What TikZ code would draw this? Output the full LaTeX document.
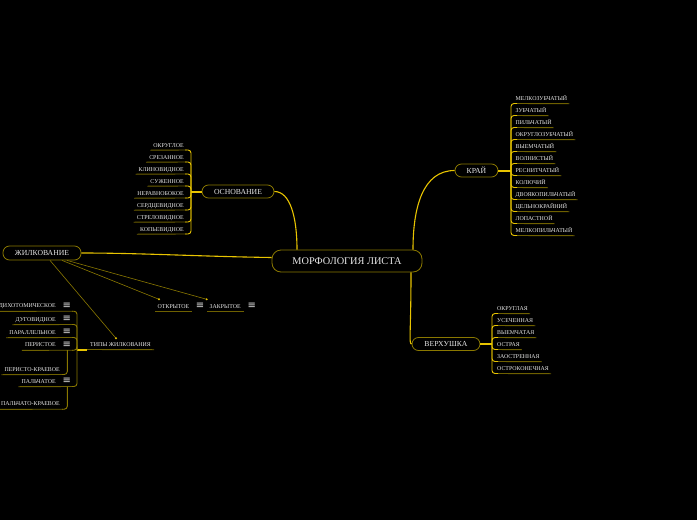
\documentclass[tikz,border=0pt]{standalone}
\usepackage{fontspec}
\setmainfont{Liberation Serif}
\newfontfamily\symfont{DejaVu Sans}
\definecolor{ylw}{HTML}{E8C400}
\definecolor{olv}{HTML}{8A7800}
\definecolor{uln}{HTML}{6E6000}
\definecolor{txt}{HTML}{E6E6E6}
\begin{document}
\begin{tikzpicture}[x=1pt,y=-1pt,
 leaf/.style={font=\fontsize{5.9}{6}\selectfont, text=txt, inner sep=0pt, text height=4pt, text depth=0pt},
 topic/.style={draw=olv, line width=0.8pt, rounded corners=6.5pt, fill=black, text=txt,
   font=\fontsize{7.7}{8}\selectfont, inner sep=0pt, text height=5.2pt, text depth=0pt, minimum height=13pt},
 central/.style={draw=olv, line width=0.8pt, rounded corners=9pt, fill=black, text=txt,
   font=\fontsize{10.3}{11}\selectfont, inner sep=0pt, text height=7pt, text depth=0pt,
   minimum width=150pt, minimum height=22pt},
 conn/.style={draw=ylw, line width=1.1pt},
 stub/.style={draw=ylw, line width=2pt},
 brk/.style={draw=ylw, line width=0.9pt, rounded corners=3pt},
 brkd/.style={draw=olv, line width=0.9pt, rounded corners=3pt},
 uline/.style={draw=uln, line width=0.9pt},
 rel/.style={draw=olv, line width=0.6pt},
 icon/.style={font=\symfont\fontsize{10}{10}\selectfont, text=txt, inner sep=0pt}
]
\fill[black] (0,0) rectangle (697,520);
\useasboundingbox (0,0) rectangle (697,520);

% central and topics
\node[central] (cen) at (347,261) {МОРФОЛОГИЯ ЛИСТА};
\node[topic, minimum width=72pt] (osn) at (238,191.5) {ОСНОВАНИЕ};
\node[topic, minimum width=43pt] (kr) at (476.5,170.5) {КРАЙ};
\node[topic, minimum width=68pt] (ver) at (446,344) {ВЕРХУШКА};
\node[topic, minimum width=78pt, minimum height=14pt] (zh) at (42,253) {ЖИЛКОВАНИЕ};

% main connectors
\draw[conn] (osn.east) .. controls +(16,0) and +(0,-32) .. ([xshift=-50pt]cen.north);
\draw[conn] (kr.west) .. controls +(-32,0) and +(0,-42) .. ([xshift=66pt]cen.north);
\draw[conn] ([xshift=64pt]cen.south) .. controls +(0,60) and +(-3,0) .. (ver.west);
\draw[conn] (zh.east) .. controls +(60,0) and +(-70,-1) .. ([yshift=3.5pt]cen.west);

% ОСНОВАНИЕ children
\coordinate (ob) at (191,191.5);
\draw[stub] (osn.west) -- (ob);
\foreach \yy/\lab [count=\i] in {145/ОКРУГЛОЕ,157/СРЕЗАННОЕ,169/КЛИНОВИДНОЕ,181/СУЖЕННОЕ,193/НЕРАВНОБОКОЕ,205/СЕРДЦЕВИДНОЕ,217/СТРЕЛОВИДНОЕ,229/КОПЬЕВИДНОЕ}{
  \node[leaf, anchor=east] (o\i) at (184,\yy) {\lab};
  \draw[uline] ([xshift=-3pt,yshift=-3pt]o\i.south west) -- (187,\yy+5);
  \draw[brk] (ob) |- (185,\yy+5);
}

% КРАЙ children
\coordinate (kb) at (511,170.5);
\draw[stub] (kr.east) -- (kb);
\foreach \yy/\lab [count=\i] in {98.5/МЕЛКОЗУБЧАТЫЙ,110.5/ЗУБЧАТЫЙ,122.5/ПИЛЬЧАТЫЙ,134.5/ОКРУГЛОЗУБЧАТЫЙ,146.5/ВЫЕМЧАТЫЙ,158.5/ВОЛНИСТЫЙ,170.5/РЕСНИТЧАТЫЙ,182.5/КОЛЮЧИЙ,194.5/ДВОЯКОПИЛЬЧАТЫЙ,206.5/ЦЕЛЬНОКРАЙНИЙ,218.5/ЛОПАСТНОЙ,230.5/МЕЛКОПИЛЬЧАТЫЙ}{
  \node[leaf, anchor=west] (k\i) at (515.5,\yy) {\lab};
  \draw[uline] (515,\yy+5) -- ([xshift=2pt,yshift=-3pt]k\i.south east);
  \draw[brk] (kb) |- (517,\yy+5);
}

% ВЕРХУШКА children
\coordinate (vb) at (492,344);
\draw[stub] (ver.east) -- (vb);
\foreach \yy/\lab [count=\i] in {308.5/ОКРУГЛАЯ,320.5/УСЕЧЕННАЯ,332.5/ВЫЕМЧАТАЯ,344.5/ОСТРАЯ,356.5/ЗАОСТРЕННАЯ,368.5/ОСТРОКОНЕЧНАЯ}{
  \node[leaf, anchor=west] (v\i) at (497,\yy) {\lab};
  \draw[uline] (496,\yy+5) -- ([xshift=2pt,yshift=-3pt]v\i.south east);
  \draw[brk] (vb) |- (498,\yy+5);
}

% ЖИЛКОВАНИЕ relations
\node[leaf, anchor=west] (otk) at (157.5,306) {ОТКРЫТОЕ};
\node[icon] (otki) at (200,306) {≡};
\node[leaf, anchor=west] (zak) at (209.5,306) {ЗАКРЫТОЕ};
\node[icon] (zaki) at (251.7,306) {≡};
\draw[uline] ([xshift=-2.5pt,yshift=-3pt]otk.south west) -- ([xshift=2.5pt,yshift=-3pt]otk.south east);
\draw[uline] ([xshift=-2.5pt,yshift=-3pt]zak.south west) -- ([xshift=3pt,yshift=-3pt]zak.south east);
\node[leaf, anchor=west] (tip) at (90,344) {ТИПЫ ЖИЛКОВАНИЯ};
\draw[uline] (87,349.5) -- ([xshift=3pt,yshift=-3.5pt]tip.south east);

\coordinate (dotk) at (159,299.3);
\coordinate (dzak) at (206.7,299.3);
\coordinate (dtip) at (116,338.3);
\draw[rel] ([xshift=20pt]zh.south) -- (dotk);
\draw[rel] ([xshift=25pt]zh.south) -- (dzak);
\draw[rel] ([xshift=8pt]zh.south) -- (dtip);
\fill[ylw] (dotk) circle (1.1);
\fill[ylw] (dzak) circle (1.1);
\fill[ylw] (dtip) circle (1.1);

% ТИПЫ ЖИЛКОВАНИЯ children
\coordinate (tb) at (77,349.5);
\draw[stub] (87,349.5) -- (tb);
\foreach \yy/\lab [count=\i] in {305.7/ДИХОТОМИЧЕСКОЕ,319/ДУГОВИДНОЕ,332/ПАРАЛЛЕЛЬНОЕ,344.7/ПЕРИСТОЕ,381/ПАЛЬЧАТОЕ}{
  \node[leaf, anchor=east] (t\i) at (56,\yy) {\lab};
  \node[icon] (ti\i) at (66.7,\yy) {≡};
  \draw[uline] ([xshift=-3pt,yshift=-3.5pt]t\i.south west) -- (73,\yy+5.5);
  \draw[brkd] (tb) |- (72,\yy+5.5);
}
\node[leaf, anchor=east] (pk) at (60,369) {ПЕРИСТО-КРАЕВОЕ};
\node[leaf, anchor=east] (pak) at (60,403.7) {ПАЛЬЧАТО-КРАЕВОЕ};
\draw[uline] ([xshift=-3pt,yshift=-3.5pt]pk.south west) -- (63,374.5);
\draw[uline] ([xshift=-3pt,yshift=-3.5pt]pak.south west) -- (63,409.2);
\draw[brkd] (67.3,350.2) |- (62,374.5);
\draw[brkd] (67.3,386.5) |- (62,409.2);
\end{tikzpicture}
\end{document}
